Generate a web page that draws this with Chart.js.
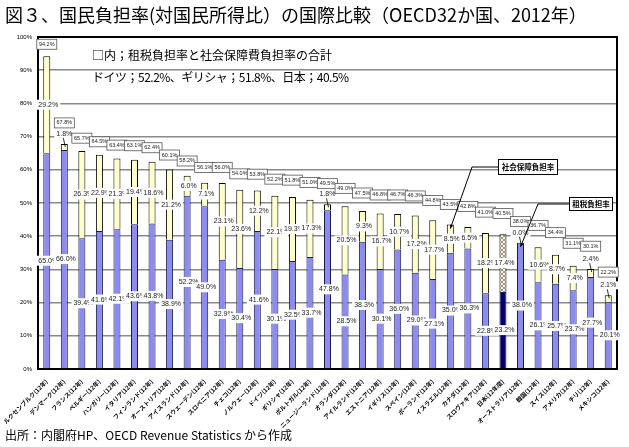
<!DOCTYPE html>
<html lang="ja">
<head>
<meta charset="utf-8">
<title>国民負担率の国際比較</title>
<script src="https://cdn.jsdelivr.net/npm/chart.js@4.4.1/dist/chart.umd.min.js"></script>
<style>
  html, body { margin: 0; padding: 0; background: #fff; }
  #wrap { position: relative; width: 629px; height: 447px; overflow: hidden; font-family: "Noto Sans CJK JP", sans-serif; }
  #chart { position: absolute; left: 0; top: 0; }
  .txt { position: absolute; white-space: nowrap; color: #000; line-height: 1; }
  #title { left: 5px; top: 5px; font-size: 18px; }
  #note1 { left: 92px; top: 49px; font-size: 12px; }
  #note2 { left: 92px; top: 71px; font-size: 12px; letter-spacing: -0.5px; }
  #source { left: 5px; top: 429px; font-size: 12px; }
</style>
</head>
<body>
<div id="wrap">
  <canvas id="chart" width="629" height="447"></canvas>
  <div class="txt" id="title">図３、国民負担率(対国民所得比）の国際比較（OECD32か国、2012年）</div>
  <div class="txt" id="note1">□内；租税負担率と社会保障費負担率の合計</div>
  <div class="txt" id="note2">ドイツ；52.2%、ギリシャ；51.8%、日本；40.5%</div>
  <div class="txt" id="source">出所：内閣府HP、OECD Revenue Statistics から作成</div>
</div>
<script>
const countries = [
  "ルクセンブルク(12年)", "デンマーク(12年)", "フランス(12年)", "ベルギー(12年)",
  "ハンガリー(12年)", "イタリア(12年)", "フィンランド(12年)", "オーストリア(12年)",
  "アイスランド(12年)", "スウェーデン(12年)", "スロベニア(12年)", "チェコ(12年)",
  "ノルウェー(12年)", "ドイツ(12年)", "ギリシャ(12年)", "ポルトガル(12年)",
  "ニュージーランド(12年)", "オランダ(12年)", "アイルランド(12年)", "エストニア(12年)",
  "イギリス(12年)", "スペイン(12年)", "ポーランド(12年)", "イスラエル(12年)",
  "カナダ(12年)", "スロヴァキア(12年)", "日本(12年度)", "オーストラリア(12年)",
  "韓国(12年)", "スイス(12年)", "アメリカ(12年)", "チリ(12年)", "メキシコ(12年)"
];
const taxRates = [65.0, 66.0, 39.4, 41.6, 42.1, 43.6, 43.8, 38.9, 52.2, 49.0, 32.9, 30.4,
  41.6, 30.1, 32.5, 33.7, 47.8, 28.5, 38.3, 30.1, 36.0, 29.0, 27.1, 35.0,
  36.3, 22.8, 23.2, 38.0, 26.1, 25.7, 23.7, 27.7, 20.1];
const socialRates = [29.2, 1.8, 26.3, 22.9, 21.3, 19.4, 18.6, 21.2, 6.0, 7.1, 23.1, 23.6,
  12.2, 22.1, 19.3, 17.3, 1.8, 20.5, 9.3, 16.7, 10.7, 17.2, 17.7, 8.5,
  6.5, 18.2, 17.4, 0.0, 10.6, 8.7, 7.4, 2.4, 2.1];
const totalRates = [94.2, 67.8, 65.7, 64.5, 63.4, 63.1, 62.4, 60.1, 58.2, 56.1, 56.0, 54.0,
  53.8, 52.2, 51.8, 51.0, 49.5, 49.0, 47.5, 46.8, 46.7, 46.3, 44.8, 43.5,
  42.8, 41.0, 40.5, 38.0, 36.7, 34.4, 31.1, 30.1, 22.2];

const japanIndex = countries.indexOf("日本(12年度)");
const israelIndex = countries.indexOf("イスラエル(12年)");
const australiaIndex = countries.indexOf("オーストラリア(12年)");

// hatched fill for Japan's social security part
function makeHatch() {
  const c = document.createElement("canvas");
  c.width = 4; c.height = 4;
  const g = c.getContext("2d");
  g.fillStyle = "#f6f3dc";
  g.fillRect(0, 0, 4, 4);
  g.fillStyle = "#9a9a8a";
  for (let i = 0; i < 4; i++) {
    g.fillRect(i, i, 1, 1);
    g.fillRect(3 - i, i, 1, 1);
  }
  return g.createPattern(c, "repeat");
}
const hatch = makeHatch();

const taxColors = countries.map((c, i) => (i === japanIndex ? "#00006e" : "#8c8cf0"));
const socialColors = countries.map((c, i) => (i === japanIndex ? hatch : "#ffffcc"));

const LABEL_FONT = '7px "Liberation Sans", Arial, sans-serif';

const labelPlugin = {
  id: "valueLabels",
  beforeDatasetsDraw(chart) {
    // outer frame goes under the labels
    const ctx = chart.ctx;
    const a = chart.chartArea;
    ctx.save();
    ctx.strokeStyle = "#000";
    ctx.lineWidth = 2;
    ctx.strokeRect(a.left, a.top, a.right - a.left, a.bottom - a.top);
    ctx.restore();
  },
  afterDatasetsDraw(chart) {
    const ctx = chart.ctx;
    ctx.save();
    ctx.font = LABEL_FONT;
    ctx.textAlign = "center";
    ctx.textBaseline = "middle";

    chart.data.datasets.forEach((ds, di) => {
      const meta = chart.getDatasetMeta(di);
      meta.data.forEach((bar, i) => {
        const v = ds.data[i];
        const txt = v.toFixed(1) + "%";
        const w = ctx.measureText(txt).width + 4;
        const top = Math.min(bar.y, bar.base);
        const lx = bar.x + 1.5;
        if (v >= 3) {
          const cy = (bar.y + bar.base) / 2;
          ctx.fillStyle = "#fff";
          ctx.fillRect(lx - w / 2, cy - 5, w, 10);
          ctx.fillStyle = "#222";
          ctx.fillText(txt, lx, cy);
        } else {
          // small values sit above the bar with a short leader
          const ly = top - 10;
          ctx.fillStyle = "#fff";
          ctx.fillRect(bar.x - w / 2, ly - 4, w, 8);
          ctx.fillStyle = "#222";
          ctx.fillText(txt, bar.x, ly);
          ctx.strokeStyle = "#000";
          ctx.lineWidth = 0.8;
          ctx.beginPath();
          ctx.moveTo(bar.x - 1, ly + 4);
          ctx.lineTo(bar.x + 1, top + 3);
          ctx.stroke();
        }
      });
    });

    // total boxes above each bar, stepping slightly higher to the right
    const yScale = chart.scales.y;
    const taxMeta = chart.getDatasetMeta(0);
    ctx.font = '5.5px "Liberation Sans", Arial, sans-serif';
    totalRates.forEach((t, i) => {
      const x = taxMeta.data[i].x;
      const off = Math.max(12 + 0.35 * i, socialRates[i] < 3 ? 21 : 0);
      const cy = yScale.getPixelForValue(t) - off;
      ctx.fillStyle = "#fff";
      ctx.fillRect(x - 10, cy - 5, 20, 10);
      ctx.strokeStyle = "#555";
      ctx.lineWidth = 0.8;
      ctx.strokeRect(x - 10, cy - 5, 20, 10);
      ctx.fillStyle = "#222";
      ctx.fillText(t.toFixed(1) + "%", x, cy);
    });
    ctx.restore();
  },
  afterDraw(chart) {
    const ctx = chart.ctx;
    ctx.save();
    const yScale = chart.scales.y;
    const taxMeta = chart.getDatasetMeta(0);

    function callout(text, bx, by, bw, bh, elbowX, tipX, tipY) {
      ctx.strokeStyle = "#000";
      ctx.lineWidth = 1;
      ctx.beginPath();
      ctx.moveTo(bx, by + bh / 2);
      ctx.lineTo(elbowX, by + bh / 2);
      ctx.lineTo(tipX, tipY);
      ctx.stroke();
      // arrow head
      const ang = Math.atan2(tipY - (by + bh / 2), tipX - elbowX);
      ctx.fillStyle = "#000";
      ctx.beginPath();
      ctx.moveTo(tipX, tipY);
      ctx.lineTo(tipX - 4 * Math.cos(ang - 0.45), tipY - 4 * Math.sin(ang - 0.45));
      ctx.lineTo(tipX - 4 * Math.cos(ang + 0.45), tipY - 4 * Math.sin(ang + 0.45));
      ctx.closePath();
      ctx.fill();
      ctx.fillStyle = "#fff";
      ctx.fillRect(bx, by, bw, bh);
      ctx.strokeRect(bx + 0.5, by + 0.5, bw - 1, bh - 1);
      ctx.fillStyle = "#000";
      ctx.font = 'bold 7.5px "Noto Sans CJK JP", sans-serif';
      ctx.textAlign = "center";
      ctx.textBaseline = "middle";
      ctx.fillText(text, bx + bw / 2, by + bh / 2 + 0.5);
    }

    const isr = taxMeta.data[israelIndex];
    callout("社会保障負担率", 498, 159, 60, 16, 472, isr.x,
      yScale.getPixelForValue(totalRates[israelIndex]) + 4);
    const aus = taxMeta.data[australiaIndex];
    callout("租税負担率", 569, 197, 44, 14, 538, aus.x,
      yScale.getPixelForValue(totalRates[australiaIndex]) + 4);
    ctx.restore();
  }
};

new Chart(document.getElementById("chart"), {
  type: "bar",
  data: {
    labels: countries,
    datasets: [
      {
        label: "租税負担率",
        data: taxRates,
        backgroundColor: taxColors,
        borderColor: "#1c1c4a",
        borderWidth: 1,
        barPercentage: 0.4,
        categoryPercentage: 1.0,
      },
      {
        label: "社会保障負担率",
        data: socialRates,
        backgroundColor: socialColors,
        borderColor: "#000",
        borderWidth: 1,
        barPercentage: 0.4,
        categoryPercentage: 1.0,
      },
    ],
  },
  options: {
    responsive: false,
    animation: false,
    devicePixelRatio: 1,
    layout: { padding: { left: 0, top: 37, right: 12, bottom: 0 } },
    plugins: {
      legend: { display: false },
      tooltip: { enabled: false },
    },
    scales: {
      x: {
        stacked: true,
        afterFit: (s) => { s.height = 78; },
        grid: { display: false },
        border: { color: "#000", width: 2 },
        ticks: {
          autoSkip: false,
          maxRotation: 45,
          minRotation: 45,
          padding: 1,
          color: "#000",
          font: { family: '"Noto Sans CJK JP", sans-serif', size: 6, weight: "bold" },
        },
      },
      y: {
        stacked: true,
        min: 0,
        max: 100,
        afterFit: (s) => { s.width = 38; },
        grid: { color: "#8a8a8a", lineWidth: 1.5, drawTicks: false },
        border: { color: "#000", width: 2 },
        ticks: {
          stepSize: 10,
          padding: 6,
          color: "#000",
          font: { family: '"Liberation Sans", Arial, sans-serif', size: 6 },
          callback: (v) => v + "%",
        },
      },
    },
  },
  plugins: [labelPlugin],
});
</script>
</body>
</html>
